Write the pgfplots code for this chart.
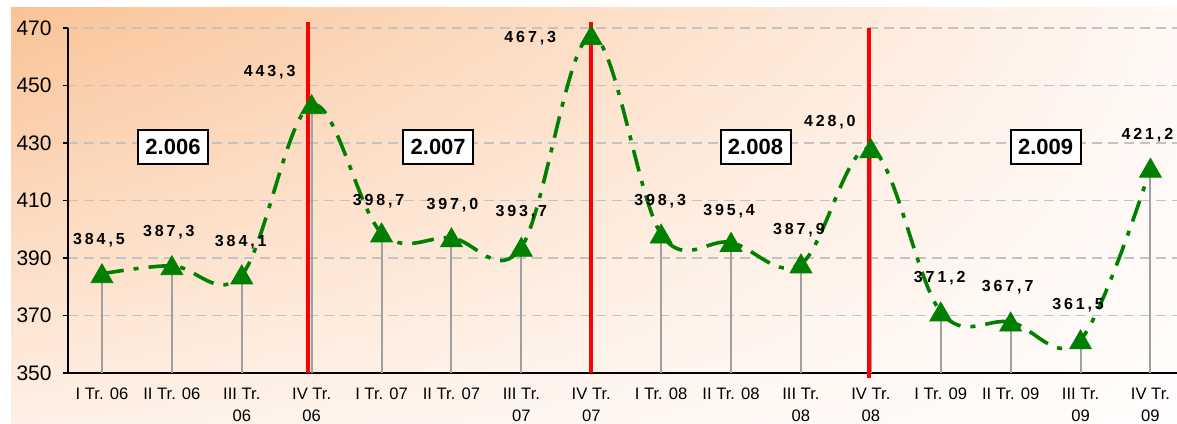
\documentclass[border=0pt]{standalone}
\usepackage{fontspec}
\setmainfont{Liberation Sans}
\newfontfamily\lblfont[LetterSpace=18]{Liberation Sans}
\usepackage{pgfplots}
\pgfplotsset{compat=1.18}
\usepackage{pgfplotstable}
\usetikzlibrary{shadings}

\definecolor{exgreen}{RGB}{0,128,0}
\definecolor{gridgray}{RGB}{195,195,195}
\definecolor{dropgray}{RGB}{160,160,160}
\definecolor{bgUL}{RGB}{250,195,150}
\definecolor{bgUR}{RGB}{255,248,244}
\definecolor{bgLL}{RGB}{254,240,230}
\definecolor{bgLR}{RGB}{255,253,252}

\pgfplotstableread{
x y err lab dx dy
0 384.5 34.5 384,5 -1.5 17
1 387.3 37.3 387,3 -1.5 17
2 384.1 34.1 384,1 -0.5 16.25
3 443.3 93.3 443,3 -21 16.5
4 398.7 48.7 398,7 -1.5 16
5 397.0 47.0 397,0 0.5 16.5
6 393.7 43.7 393,7 0 17.5
7 467.3 117.3 467,3 -30.5 -1
8 398.3 48.3 398,3 -0.5 16.5
9 395.4 45.4 395,4 -1 15.5
10 387.9 37.9 387,9 -1 17
11 428.0 78.0 428,0 -20.5 13.5
12 371.2 21.2 371,2 -0.5 17
13 367.7 17.7 367,7 -1.5 17.3
14 361.5 11.5 361,5 -1.25 17.2
15 421.2 71.2 421,2 -1.5 16.5
}\datatable

\begin{document}
\begin{tikzpicture}
\useasboundingbox (0,0) rectangle (588.5pt,211.5pt);
\fill[white] (0,0) rectangle (588.5pt,211.5pt);
\shade[upper left=bgUL, upper right=bgUR, lower left=bgLL, lower right=bgLR] (5.5pt,0) rectangle (588.5pt,207.5pt);
\begin{axis}[
  at={(34pt,25pt)}, anchor=south west,
  scale only axis, width=554.5pt, height=172.5pt,
  xmin=-0.486, xmax=15.38, ymin=350, ymax=470,
  clip=false,
  axis x line*=bottom, axis y line*=left,
  axis line style={black, line width=0.8pt},
  ytick={350,370,...,470},
  xtick={0,...,15},
  xticklabels={I Tr. 06, II Tr. 06, {III Tr.\\06}, {IV Tr.\\06}, I Tr. 07, II Tr. 07, {III Tr.\\07}, {IV Tr.\\07}, I Tr. 08, II Tr. 08, {III Tr.\\08}, {IV Tr.\\08}, I Tr. 09, II Tr. 09, {III Tr.\\09}, {IV Tr.\\09}},
  xtick style={draw=none},
  ytick style={black, line width=0.8pt},
  tick align=outside, major tick length=2.5pt,
  /pgf/number format/assume math mode=true,
  yticklabel style={font=\fontsize{10.5}{12}\selectfont, inner sep=0pt, xshift=-5.5pt},
  xticklabel style={font=\fontsize{8.3}{11}\selectfont, align=center, anchor=north, inner sep=0pt, yshift=-5pt},
  ymajorgrids,
  major grid style={gridgray, dash pattern=on 5pt off 3pt, line width=0.6pt},
]
% drop lines
\addplot[forget plot, draw=none, mark=none,
  error bars/.cd, y dir=minus, y explicit, error mark=none,
  error bar style={draw=dropgray, solid, line width=1pt}]
  table[x=x, y=y, y error minus=err] {\datatable};
% smoothed line
\addplot[exgreen, line width=1.8pt, smooth, tension=0.6, mark=none,
  dash pattern=on 11pt off 5pt on 2.5pt off 5pt]
  table[x=x, y=y] {\datatable};
% markers
\addplot[only marks, mark=triangle*, mark size=6.3pt,
  mark options={draw=exgreen, fill=exgreen, solid, yshift=-1.3pt}]
  table[x=x, y=y] {\datatable};
% red separators
\addplot[red, line width=2pt, mark=none] coordinates {(2.95,472.1) (2.95,350)};
\addplot[red, line width=2pt, mark=none] coordinates {(7.0,472.1) (7.0,350)};
\addplot[red, line width=2pt, mark=none] coordinates {(10.98,470) (10.98,348.3)};
% value labels
\addplot[draw=none, mark=none, nodes near coords, point meta=explicit symbolic,
  visualization depends on={\thisrow{dx}\as\dx},
  visualization depends on={\thisrow{dy}\as\dy},
  nodes near coords align=center,
  nodes near coords style={font=\lblfont\bfseries\fontsize{8}{9}\selectfont, text=black, inner sep=0pt, anchor=center, xshift=\dx pt, yshift=\dy pt}]
  table[x=x, y=y, meta=lab] {\datatable};
% year boxes
\tikzset{yearbox/.style={draw=black, line width=1pt, fill=white, font=\bfseries\fontsize{11}{13}\selectfont, minimum width=35pt, minimum height=17pt, inner sep=0pt}}
\node[yearbox] at (axis cs:1.016,428.6) {2.006};
\node[yearbox] at (axis cs:4.81,428.6) {2.007};
\node[yearbox] at (axis cs:9.35,428.6) {2.008};
\node[yearbox] at (axis cs:13.5,428.6) {2.009};
\end{axis}
\end{tikzpicture}
\end{document}
